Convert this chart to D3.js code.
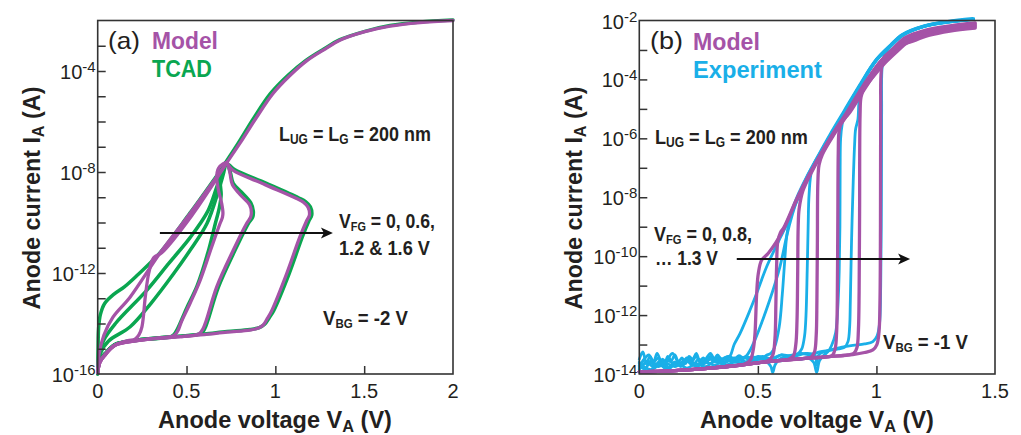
<!DOCTYPE html>
<html><head><meta charset="utf-8">
<script src="https://cdn.jsdelivr.net/npm/d3@7"></script>
<style>
body{margin:0;background:#fff}
svg{display:block}
text{font-family:"Liberation Sans",Arial,Helvetica,sans-serif;white-space:pre}
</style></head>
<body><svg id="c" width="1021" height="435"></svg>
<script>
// ---------- DATA: points are [anode voltage (V), log10 of anode current (A)] ----------
// Panel (a): model (purple) and TCAD (green)
const aModelUpper = [[0.728,-7.62],[0.80,-6.87],[0.89,-5.88],[0.987,-4.89],[1.082,-4.18],[1.178,-3.59],[1.28,-3.13],[1.363,-2.78],[1.504,-2.44],[1.645,-2.22],[1.814,-2.08],[2.0,-2.0]];
const aModelA = [[0,-15.95],[0.007,-15.25],[0.035,-14.46],[0.086,-13.75],[0.182,-12.96],[0.35,-11.22],[0.52,-9.64],[0.728,-7.62]];
const aModelB = [[0,-15.95],[0.013,-15.5],[0.041,-15.22],[0.097,-14.86],[0.17,-14.68],[0.21,-14.62],[0.232,-14.45],[0.249,-14.13],[0.268,-12.94],[0.287,-12.02],[0.315,-11.4],[0.36,-11.2],[0.53,-9.72],[0.728,-7.62]];
const aModelC = [[0,-15.95],[0.013,-15.53],[0.041,-15.25],[0.097,-14.86],[0.221,-14.68],[0.3,-14.6],[0.38,-14.55],[0.415,-14.52],[0.435,-14.45],[0.452,-14.28],[0.47,-13.95],[0.52,-13.2],[0.576,-12.3],[0.64,-11.0],[0.688,-10.05],[0.702,-9.8],[0.705,-9.62],[0.698,-9.25],[0.68,-8.73],[0.67,-8.2],[0.68,-7.85],[0.705,-7.68],[0.728,-7.62]];
const aModelD = [[0,-15.95],[0.013,-15.53],[0.041,-15.25],[0.097,-14.86],[0.221,-14.68],[0.35,-14.58],[0.465,-14.52],[0.54,-14.47],[0.572,-14.4],[0.592,-14.22],[0.61,-13.9],[0.67,-12.55],[0.763,-11.1],[0.838,-10.04],[0.86,-9.8],[0.865,-9.6],[0.855,-9.3],[0.8,-8.88],[0.758,-8.5],[0.746,-8.1],[0.737,-7.8],[0.728,-7.62]];
const aModelE = [[0,-15.95],[0.013,-15.53],[0.041,-15.25],[0.097,-14.86],[0.221,-14.68],[0.35,-14.58],[0.465,-14.52],[0.6,-14.44],[0.728,-14.34],[0.857,-14.26],[0.905,-14.18],[0.932,-14.06],[0.955,-13.8],[0.979,-13.5],[1.064,-12.02],[1.138,-10.57],[1.175,-9.95],[1.192,-9.7],[1.184,-9.4],[1.158,-9.2],[1.12,-9.05],[0.942,-8.5],[0.763,-7.94],[0.737,-7.75],[0.728,-7.62]];

const aTcadUpper = [[0.72,-7.62],[0.79,-6.87],[0.877,-5.88],[0.973,-4.89],[1.07,-4.18],[1.17,-3.59],[1.275,-3.12],[1.36,-2.77],[1.504,-2.43],[1.645,-2.2],[1.814,-2.06],[2.0,-1.98]];
const aTcadA = [[0,-15.9],[0.002,-15.0],[0.005,-14.2],[0.015,-13.65],[0.04,-13.2],[0.09,-12.85],[0.15,-12.55],[0.221,-12.1],[0.35,-11.2],[0.52,-9.62],[0.72,-7.65]];
const aTcadB = [[0,-16],[0.015,-15.18],[0.06,-14.7],[0.183,-14.13],[0.3,-13.2],[0.428,-12.02],[0.52,-11.1],[0.615,-10.04],[0.68,-8.73],[0.71,-8.0],[0.72,-7.65]];
const aTcadB2 = [[0,-16],[0.008,-15.3],[0.034,-14.66],[0.1,-14.0],[0.277,-12.68],[0.4,-11.62],[0.52,-10.6],[0.62,-9.55],[0.67,-8.6],[0.7,-8.0],[0.72,-7.65]];
const aTcadC = [[0,-15.9],[0.013,-15.45],[0.041,-15.2],[0.097,-14.83],[0.221,-14.66],[0.33,-14.6],[0.4,-14.55],[0.428,-14.45],[0.45,-14.2],[0.5,-13.4],[0.56,-12.5],[0.62,-11.2],[0.66,-10.1],[0.685,-9.4],[0.695,-8.9],[0.69,-8.4],[0.7,-8.0],[0.72,-7.65]];
const aTcadD = [[0,-15.9],[0.013,-15.45],[0.041,-15.2],[0.097,-14.83],[0.221,-14.66],[0.35,-14.56],[0.465,-14.5],[0.55,-14.45],[0.585,-14.38],[0.603,-14.2],[0.62,-13.88],[0.68,-12.55],[0.773,-11.1],[0.848,-10.04],[0.872,-9.8],[0.876,-9.55],[0.862,-9.22],[0.81,-8.8],[0.763,-8.45],[0.748,-8.05],[0.735,-7.78],[0.72,-7.65]];
const aTcadE = [[0,-15.9],[0.013,-15.45],[0.041,-15.2],[0.097,-14.83],[0.221,-14.66],[0.35,-14.56],[0.465,-14.5],[0.6,-14.42],[0.728,-14.32],[0.857,-14.24],[0.91,-14.16],[0.94,-14.03],[0.965,-13.78],[0.99,-13.5],[1.078,-12.02],[1.152,-10.57],[1.188,-9.95],[1.205,-9.7],[1.197,-9.38],[1.17,-9.17],[1.13,-9.02],[0.95,-8.45],[0.77,-7.9],[0.74,-7.72],[0.72,-7.65]];

// Panel (b): model (purple), VFG = 0, 0.8, 0.9, 1.0, 1.1, 1.2, 1.3 V
const bModel1 = [[0,-13.92],[0.1,-13.9],[0.2,-13.86],[0.3,-13.8],[0.4,-13.72],[0.45,-13.64],[0.47,-13.5],[0.482,-13.1],[0.488,-12.62],[0.495,-11.26],[0.502,-10.58],[0.516,-10.13],[0.544,-9.9],[0.607,-9.11],[0.664,-8.09],[0.72,-7.19],[0.818,-5.83],[0.875,-5.12],[0.945,-4.2],[1.015,-3.4],[1.071,-2.95],[1.121,-2.58],[1.205,-2.33],[1.31,-2.18],[1.416,-2.08]];
const bModel2 = [[0,-13.92],[0.1,-13.9],[0.2,-13.86],[0.3,-13.8],[0.4,-13.72],[0.5,-13.62],[0.54,-13.56],[0.562,-13.38],[0.572,-12.8],[0.576,-11.6],[0.579,-10.36],[0.584,-9.5],[0.595,-9.2],[0.61,-9.02],[0.664,-8.05],[0.72,-7.17],[0.818,-5.82],[0.876,-5.13],[0.946,-4.22],[1.016,-3.42],[1.073,-2.97],[1.123,-2.61],[1.207,-2.36],[1.31,-2.21],[1.416,-2.11]];
const bModel3 = [[0,-13.92],[0.1,-13.9],[0.2,-13.86],[0.3,-13.8],[0.4,-13.72],[0.5,-13.62],[0.6,-13.54],[0.63,-13.5],[0.65,-13.38],[0.66,-13.0],[0.665,-12.2],[0.668,-10.5],[0.67,-9.0],[0.674,-8.4],[0.69,-7.78],[0.722,-7.22],[0.82,-5.85],[0.878,-5.15],[0.948,-4.25],[1.018,-3.45],[1.075,-3.0],[1.125,-2.64],[1.21,-2.39],[1.31,-2.24],[1.416,-2.14]];
const bModel4 = [[0,-13.92],[0.1,-13.9],[0.2,-13.86],[0.3,-13.8],[0.4,-13.72],[0.5,-13.62],[0.6,-13.54],[0.7,-13.47],[0.725,-13.43],[0.739,-13.25],[0.746,-12.7],[0.749,-11.5],[0.751,-9.5],[0.753,-7.5],[0.758,-6.9],[0.772,-6.55],[0.822,-5.86],[0.88,-5.17],[0.95,-4.27],[1.02,-3.48],[1.077,-3.03],[1.128,-2.67],[1.212,-2.42],[1.31,-2.27],[1.416,-2.17]];
const bModel5 = [[0,-13.92],[0.1,-13.9],[0.2,-13.86],[0.3,-13.8],[0.4,-13.72],[0.5,-13.62],[0.6,-13.54],[0.7,-13.47],[0.8,-13.41],[0.815,-13.36],[0.826,-13.15],[0.832,-12.6],[0.835,-11.5],[0.837,-9],[0.839,-6.5],[0.842,-5.8],[0.853,-5.45],[0.884,-5.16],[0.952,-4.3],[1.022,-3.5],[1.079,-3.06],[1.131,-2.7],[1.215,-2.45],[1.31,-2.3],[1.416,-2.2]];
const bModel6 = [[0,-13.92],[0.1,-13.9],[0.2,-13.86],[0.3,-13.8],[0.4,-13.72],[0.5,-13.62],[0.6,-13.54],[0.7,-13.47],[0.8,-13.41],[0.88,-13.35],[0.905,-13.3],[0.918,-13.1],[0.924,-12.5],[0.927,-11.2],[0.929,-8.5],[0.931,-5.2],[0.935,-4.6],[0.948,-4.3],[0.965,-4.12],[1.026,-3.53],[1.082,-3.09],[1.134,-2.73],[1.218,-2.48],[1.31,-2.33],[1.416,-2.23]];
const bModel7 = [[0,-13.92],[0.1,-13.9],[0.2,-13.86],[0.3,-13.8],[0.4,-13.72],[0.5,-13.62],[0.6,-13.54],[0.7,-13.47],[0.8,-13.41],[0.9,-13.34],[0.95,-13.27],[0.985,-13.18],[1.002,-13.0],[1.011,-12.55],[1.015,-11.5],[1.017,-9],[1.018,-5],[1.02,-3.75],[1.03,-3.28],[1.06,-3.05],[1.1,-2.85],[1.14,-2.74],[1.22,-2.51],[1.31,-2.36],[1.416,-2.26]];

// Panel (b): experiment (cyan)
const bExp1 = [[0,-13.5],[0.015,-13.25],[0.03,-13.65],[0.045,-13.4],[0.06,-13.6],[0.075,-13.3],[0.09,-13.55],[0.105,-13.7],[0.12,-13.4],[0.135,-13.55],[0.15,-13.35],[0.165,-13.6],[0.18,-13.45],[0.195,-13.65],[0.21,-13.4],[0.225,-13.5],[0.24,-13.3],[0.255,-13.55],[0.27,-13.45],[0.285,-13.6],[0.3,-13.4],[0.315,-13.5],[0.33,-13.35],[0.345,-13.5],[0.36,-13.45],[0.372,-13.42],[0.383,-13.38],[0.40,-13.0],[0.425,-12.62],[0.467,-11.83],[0.495,-11.26],[0.537,-10.36],[0.593,-9.4],[0.635,-8.7],[0.655,-8.3],[0.68,-7.85],[0.71,-7.35],[0.76,-6.55],[0.808,-5.88],[0.865,-5.1],[0.935,-4.15],[1.0,-3.35],[1.06,-2.85],[1.11,-2.49],[1.2,-2.2],[1.3,-2.05],[1.41,-1.95]];
const bExp2 = [[0,-13.75],[0.02,-13.5],[0.04,-13.35],[0.06,-13.6],[0.08,-13.45],[0.1,-13.75],[0.12,-13.5],[0.14,-13.3],[0.16,-13.55],[0.18,-13.7],[0.2,-13.45],[0.22,-13.6],[0.24,-13.4],[0.26,-13.65],[0.28,-13.5],[0.3,-13.3],[0.32,-13.55],[0.34,-13.45],[0.36,-13.6],[0.38,-13.4],[0.4,-13.5],[0.42,-13.38],[0.44,-13.45],[0.455,-13.35],[0.467,-13.2],[0.49,-12.8],[0.51,-12.39],[0.55,-11.49],[0.593,-10.36],[0.622,-9.3],[0.645,-8.6],[0.665,-8.1],[0.71,-7.25],[0.76,-6.5],[0.806,-5.84],[0.864,-5.06],[0.934,-4.12],[0.999,-3.32],[1.059,-2.83],[1.109,-2.47],[1.2,-2.18],[1.3,-2.03],[1.405,-1.93]];
const bExp3 = [[0,-13.6],[0.025,-13.8],[0.05,-13.55],[0.075,-13.7],[0.1,-13.5],[0.125,-13.8],[0.15,-13.6],[0.175,-13.75],[0.2,-13.55],[0.225,-13.7],[0.25,-13.5],[0.275,-13.65],[0.3,-13.45],[0.325,-13.6],[0.35,-13.5],[0.375,-13.4],[0.4,-13.55],[0.425,-13.45],[0.45,-13.6],[0.475,-13.4],[0.5,-13.5],[0.52,-13.45],[0.54,-13.35],[0.555,-13.3],[0.57,-13.1],[0.59,-12.4],[0.603,-11.3],[0.612,-10.3],[0.622,-9.3],[0.64,-8.55],[0.662,-8.05],[0.712,-7.22],[0.762,-6.52],[0.808,-5.86],[0.866,-5.08],[0.936,-4.14],[1.001,-3.34],[1.061,-2.86],[1.112,-2.5],[1.2,-2.21],[1.3,-2.06],[1.41,-1.97]];
const bExp4 = [[0,-13.85],[0.03,-13.6],[0.06,-13.75],[0.09,-13.55],[0.12,-13.8],[0.15,-13.6],[0.18,-13.7],[0.21,-13.5],[0.24,-13.75],[0.27,-13.55],[0.3,-13.65],[0.33,-13.45],[0.36,-13.6],[0.39,-13.5],[0.42,-13.55],[0.45,-13.4],[0.48,-13.5],[0.51,-13.45],[0.54,-13.6],[0.555,-13.75],[0.563,-13.95],[0.572,-13.7],[0.59,-13.5],[0.62,-13.4],[0.65,-13.35],[0.67,-13.3],[0.685,-13.15],[0.697,-12.7],[0.703,-12.0],[0.708,-10.5],[0.712,-9.0],[0.716,-7.9],[0.728,-7.05],[0.762,-6.5],[0.81,-5.84],[0.867,-5.07],[0.937,-4.13],[1.002,-3.33],[1.062,-2.85],[1.113,-2.49],[1.2,-2.2],[1.3,-2.05],[1.41,-1.96]];
const bExp5 = [[0,-13.7],[0.04,-13.9],[0.08,-13.65],[0.12,-13.85],[0.16,-13.6],[0.2,-13.8],[0.24,-13.65],[0.28,-13.75],[0.32,-13.55],[0.36,-13.7],[0.4,-13.6],[0.44,-13.65],[0.48,-13.55],[0.52,-13.6],[0.56,-13.5],[0.6,-13.55],[0.64,-13.45],[0.68,-13.5],[0.71,-13.45],[0.735,-13.6],[0.748,-13.95],[0.76,-13.55],[0.78,-13.35],[0.795,-13.25],[0.81,-13.05],[0.828,-12.6],[0.838,-11.6],[0.843,-10.5],[0.846,-9.0],[0.847,-7.0],[0.849,-6.0],[0.856,-5.5],[0.868,-5.08],[0.937,-4.13],[1.0,-3.33],[1.06,-2.84],[1.11,-2.48],[1.2,-2.19],[1.3,-2.04],[1.41,-1.95]];
const bExp6 = [[0,-13.8],[0.04,-13.6],[0.08,-13.75],[0.12,-13.55],[0.16,-13.7],[0.2,-13.5],[0.24,-13.75],[0.28,-13.6],[0.32,-13.7],[0.36,-13.5],[0.4,-13.6],[0.44,-13.45],[0.48,-13.55],[0.52,-13.4],[0.56,-13.5],[0.6,-13.35],[0.64,-13.45],[0.68,-13.3],[0.72,-13.35],[0.76,-13.25],[0.8,-13.2],[0.84,-13.15],[0.865,-13.1],[0.88,-12.9],[0.887,-12.4],[0.89,-11.5],[0.895,-9.5],[0.902,-7.5],[0.908,-6.2],[0.912,-5.7],[0.922,-5.35],[0.926,-4.8],[0.938,-4.15],[1.0,-3.33],[1.06,-2.85],[1.11,-2.49],[1.2,-2.2],[1.3,-2.05],[1.41,-1.95]];
const bExp7 = [[0,-13.65],[0.05,-13.85],[0.1,-13.6],[0.15,-13.75],[0.2,-13.55],[0.25,-13.7],[0.3,-13.5],[0.35,-13.65],[0.4,-13.45],[0.45,-13.6],[0.5,-13.4],[0.55,-13.5],[0.6,-13.35],[0.65,-13.4],[0.7,-13.3],[0.74,-13.35],[0.748,-13.7],[0.757,-13.35],[0.8,-13.2],[0.85,-13.1],[0.9,-13.03],[0.95,-12.98],[0.985,-12.9],[1.003,-12.7],[1.013,-12.3],[1.018,-11],[1.021,-8],[1.022,-5],[1.024,-3.6],[1.035,-3.15],[1.062,-2.86],[1.112,-2.5],[1.2,-2.2],[1.3,-2.06],[1.41,-1.96]];

// Tick values / labels
const aXTicks = [0, 0.5, 1, 1.5, 2];
const aXLabels = ["0", "0.5", "1", "1.5", "2"];
const aYTickExps = [-15,-14,-13,-12,-11,-10,-9,-8,-7,-6,-5,-4,-3];
const aYLabelExps = [-16, -12, -8, -4];
const bXTicks = [0, 0.5, 1, 1.5];
const bXLabels = ["0", "0.5", "1", "1.5"];
const bYTickExps = [-13,-12,-11,-10,-9,-8,-7,-6,-5,-4,-3];
const bYLabelExps = [-14, -12, -10, -8, -6, -4, -2];

// Annotation arrows [V start, V end, log10 I]
const aArrow = [0.35, 1.324, -10.42];
const bArrow = [0.411, 1.142, -10.1];

// ---------- STYLE ----------
const PURPLE = "#a553a7", GREEN = "#0aa650", CYAN = "#1aafe8", INK = "#231f20", FRAME = "#333";

const svg = d3.select("#c");

function makePanel(cfg) {
  const x = d3.scaleLinear().domain(cfg.xDom).range([cfg.left, cfg.right]);
  const y = d3.scaleLog().domain(cfg.yDom).range([cfg.bottom, cfg.top]);
  const g = svg.append("g");
  const id = "clip" + cfg.name;
  svg.append("defs").append("clipPath").attr("id", id).append("rect")
    .attr("x", cfg.left - 3).attr("y", cfg.top - 4)
    .attr("width", cfg.right - cfg.left + 6).attr("height", cfg.bottom - cfg.top + 7);
  const line = d3.line().x(d => x(d[0])).y(d => y(Math.pow(10, d[1])))
    .curve(d3.curveCatmullRom.alpha(0.5));
  const plot = g.append("g").attr("clip-path", `url(#${id})`);
  cfg.series.forEach(s => {
    plot.append("path").attr("d", line(s.data)).attr("fill", "none")
      .attr("stroke", s.color).attr("stroke-width", s.w)
      .attr("stroke-linejoin", "round").attr("stroke-linecap", "round");
  });
  // frame
  g.append("rect").attr("x", cfg.left).attr("y", cfg.top)
    .attr("width", cfg.right - cfg.left).attr("height", cfg.bottom - cfg.top)
    .attr("fill", "none").attr("stroke", FRAME).attr("stroke-width", 1.6);
  // inward ticks
  const xa = g.append("g").attr("transform", `translate(0,${cfg.bottom})`)
    .call(d3.axisBottom(x).tickValues(cfg.xTicks.filter(v => v > cfg.xDom[0] && v < cfg.xDom[1])).tickSize(-8).tickFormat(""));
  const ya = g.append("g").attr("transform", `translate(${cfg.left},0)`)
    .call(d3.axisLeft(y).tickValues(cfg.yTickExps.map(e => Math.pow(10, e))).tickSize(-8).tickFormat(""));
  [xa, ya].forEach(a => { a.select(".domain").remove(); a.selectAll("line").attr("stroke", FRAME).attr("stroke-width", 1.5); });
  // x tick labels
  cfg.xTicks.forEach((v, i) => {
    g.append("text").attr("x", x(v)).attr("y", cfg.bottom + 24).attr("text-anchor", "middle")
      .attr("font-size", 20).attr("fill", INK).text(cfg.xLabels[i]);
  });
  // y tick labels 10^e
  cfg.yLabelExps.forEach(e => {
    const t = g.append("text").attr("x", cfg.left - 2).attr("y", y(Math.pow(10, e)) + 8)
      .attr("text-anchor", "end").attr("font-size", 20).attr("fill", INK);
    t.append("tspan").text("10");
    t.append("tspan").attr("font-size", 15).attr("dy", -7).text(String(e));
  });
  // arrow
  const ay = y(Math.pow(10, cfg.arrow[2])), ax0 = x(cfg.arrow[0]), ax1 = x(cfg.arrow[1]);
  g.append("line").attr("x1", ax0).attr("x2", ax1 - 8).attr("y1", ay).attr("y2", ay)
    .attr("stroke", "#111").attr("stroke-width", 2);
  g.append("path").attr("d", `M${ax1},${ay} L${ax1 - 12},${ay - 5.5} L${ax1 - 9},${ay} L${ax1 - 12},${ay + 5.5} Z`)
    .attr("fill", "#111");
  return { x, y, g };
}

function label(parts, o) {
  const g = svg.append("g").attr("transform", `translate(${o.x},${o.y})` + (o.rotate ? ` rotate(${o.rotate})` : ""));
  const t = g.append("text").attr("text-anchor", o.anchor || "start")
    .attr("font-size", o.size).attr("font-weight", o.weight || "bold").attr("fill", o.fill || INK);
  let shift = 0;
  parts.forEach(p => {
    const ts = t.append("tspan").text(p.t);
    const target = p.sub ? (o.subShift || 4) : 0;
    if (target !== shift) { ts.attr("dy", target - shift); shift = target; }
    if (p.sub) ts.attr("font-size", o.subSize || Math.round(o.size * 0.65));
  });
  if (o.width) {
    const w = t.node().getComputedTextLength();
    if (w > 0) t.attr("transform", `scale(${o.width / w},1)`);
  }
  return t;
}

// ---------- PANELS ----------
const GW = 3.5, PW = 3.3, CW = 2.8;
makePanel({
  name: "a", left: 97.7, right: 453, top: 20.5, bottom: 374,
  xDom: [0, 2], yDom: [1e-16, 1e-2],
  xTicks: aXTicks, xLabels: aXLabels, yTickExps: aYTickExps, yLabelExps: aYLabelExps,
  arrow: aArrow,
  series: [
    { data: aTcadUpper, color: GREEN, w: GW },
    { data: aTcadA, color: GREEN, w: GW }, { data: aTcadB, color: GREEN, w: GW },
    { data: aTcadB2, color: GREEN, w: GW }, { data: aTcadC, color: GREEN, w: GW },
    { data: aTcadD, color: GREEN, w: GW }, { data: aTcadE, color: GREEN, w: GW },
    { data: aModelUpper, color: PURPLE, w: PW },
    { data: aModelA, color: PURPLE, w: PW }, { data: aModelB, color: PURPLE, w: PW },
    { data: aModelC, color: PURPLE, w: PW }, { data: aModelD, color: PURPLE, w: PW },
    { data: aModelE, color: PURPLE, w: PW }
  ]
});

makePanel({
  name: "b", left: 639.3, right: 995, top: 20.5, bottom: 374,
  xDom: [0, 1.5], yDom: [1e-14, 1e-2],
  xTicks: bXTicks, xLabels: bXLabels, yTickExps: bYTickExps, yLabelExps: bYLabelExps,
  arrow: bArrow,
  series: [
    { data: bExp1, color: CYAN, w: CW }, { data: bExp2, color: CYAN, w: CW },
    { data: bExp3, color: CYAN, w: CW }, { data: bExp4, color: CYAN, w: CW },
    { data: bExp5, color: CYAN, w: CW }, { data: bExp6, color: CYAN, w: CW },
    { data: bExp7, color: CYAN, w: CW },
    { data: bModel1, color: PURPLE, w: PW }, { data: bModel2, color: PURPLE, w: PW },
    { data: bModel3, color: PURPLE, w: PW }, { data: bModel4, color: PURPLE, w: PW },
    { data: bModel5, color: PURPLE, w: PW }, { data: bModel6, color: PURPLE, w: PW },
    { data: bModel7, color: PURPLE, w: PW }
  ]
});

// ---------- TEXT ----------
// axis titles
[[275, 40], [817, 582]].forEach(([cx, tx]) => {
  label([{ t: "Anode voltage V" }, { t: "A", sub: true }, { t: " (V)" }],
    { x: cx, y: 428, size: 23, anchor: "middle", width: 234, subSize: 16, subShift: 4 });
  label([{ t: "Anode current I" }, { t: "A", sub: true }, { t: " (A)" }],
    { x: tx, y: 198, size: 23, anchor: "middle", rotate: -90, width: 223, subSize: 16, subShift: 4 });
});

// panel (a) annotations
label([{ t: "(a)" }], { x: 108, y: 49, size: 24, weight: "normal", width: 32 });
label([{ t: "Model" }], { x: 152, y: 49, size: 23, fill: PURPLE, width: 66 });
label([{ t: "TCAD" }], { x: 152, y: 77, size: 23, fill: GREEN, width: 60 });
label([{ t: "L" }, { t: "UG", sub: true }, { t: " = L" }, { t: "G", sub: true }, { t: " = 200 nm" }],
  { x: 279, y: 141, size: 21, width: 152, subSize: 14, subShift: 3 });
label([{ t: "V" }, { t: "FG", sub: true }, { t: " = 0, 0.6," }], { x: 339, y: 228, size: 21, width: 96, subSize: 13, subShift: 3 });
label([{ t: "1.2 & 1.6 V" }], { x: 339, y: 255, size: 21, width: 91 });
label([{ t: "V" }, { t: "BG", sub: true }, { t: " = -2 V" }], { x: 323, y: 325, size: 21, width: 85, subSize: 13, subShift: 3 });

// panel (b) annotations
label([{ t: "(b)" }], { x: 650, y: 49, size: 24, weight: "normal", width: 33 });
label([{ t: "Model" }], { x: 693, y: 50, size: 23, fill: PURPLE, width: 67 });
label([{ t: "Experiment" }], { x: 693, y: 78, size: 23, fill: CYAN, width: 129 });
label([{ t: "L" }, { t: "UG", sub: true }, { t: " = L" }, { t: "G", sub: true }, { t: " = 200 nm" }],
  { x: 655, y: 144, size: 21, width: 153, subSize: 14, subShift: 3 });
label([{ t: "V" }, { t: "FG", sub: true }, { t: " = 0, 0.8," }], { x: 654, y: 241, size: 21, width: 98, subSize: 13, subShift: 3 });
label([{ t: "\u2026 1.3 V" }], { x: 655, y: 265, size: 21, width: 63 });
label([{ t: "V" }, { t: "BG", sub: true }, { t: " = -1 V" }], { x: 883, y: 349, size: 21, width: 85, subSize: 13, subShift: 3 });
</script></body></html>
